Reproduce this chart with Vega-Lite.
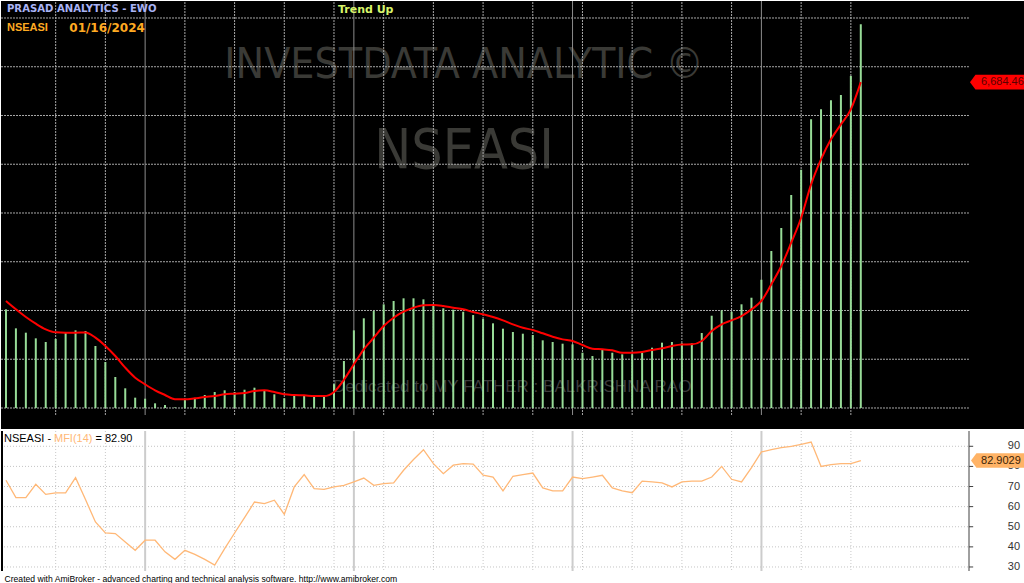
{
 "$schema": "https://vega.github.io/schema/vega-lite/v6.json",
 "background": "#ffffff",
 "padding": 0,
 "spacing": 1,
 "config": {"view": {"stroke": null}},
 "datasets": {
  "bars": [
   {"i":1,"v":2024,"r":2195},{"i":2,"v":1634,"r":2024},{"i":3,"v":1545,"r":1866},{"i":4,"v":1429,"r":1729},{"i":5,"v":1354,"r":1614},
   {"i":6,"v":1415,"r":1552},{"i":7,"v":1545,"r":1545},{"i":8,"v":1593,"r":1545},{"i":9,"v":1579,"r":1550},{"i":10,"v":1272,"r":1442},
   {"i":11,"v":943,"r":1272},{"i":12,"v":636,"r":1066},{"i":13,"v":404,"r":827},{"i":14,"v":212,"r":622},{"i":15,"v":191,"r":486},
   {"i":16,"v":96,"r":363},{"i":17,"v":62,"r":267},{"i":18,"v":12,"r":178},{"i":19,"v":164,"r":178},{"i":20,"v":205,"r":199},
   {"i":21,"v":267,"r":226},{"i":22,"v":328,"r":246},{"i":23,"v":363,"r":281},{"i":24,"v":328,"r":294},{"i":25,"v":375,"r":308},
   {"i":26,"v":417,"r":349},{"i":27,"v":363,"r":363},{"i":28,"v":281,"r":328},{"i":29,"v":199,"r":281},{"i":30,"v":253,"r":267},
   {"i":31,"v":267,"r":260},{"i":32,"v":240,"r":246},{"i":33,"v":240,"r":246},{"i":34,"v":490,"r":330},{"i":35,"v":964,"r":580},
   {"i":36,"v":1593,"r":896},{"i":37,"v":1840,"r":1204},{"i":38,"v":1990,"r":1442},{"i":39,"v":2127,"r":1682},{"i":40,"v":2195,"r":1852},
   {"i":41,"v":2250,"r":1975},{"i":42,"v":2250,"r":2057},{"i":43,"v":2229,"r":2106},{"i":44,"v":2092,"r":2113},{"i":45,"v":2045,"r":2092},
   {"i":46,"v":2017,"r":2057},{"i":47,"v":1975,"r":2024},{"i":48,"v":1907,"r":1969},{"i":49,"v":1825,"r":1922},{"i":50,"v":1737,"r":1866},
   {"i":51,"v":1627,"r":1797},{"i":52,"v":1559,"r":1716},{"i":53,"v":1524,"r":1647},{"i":54,"v":1497,"r":1600},{"i":55,"v":1388,"r":1532},
   {"i":56,"v":1354,"r":1463},{"i":57,"v":1319,"r":1408},{"i":58,"v":1306,"r":1374},{"i":59,"v":1134,"r":1292},{"i":60,"v":1066,"r":1217},
   {"i":61,"v":1190,"r":1204},{"i":62,"v":1134,"r":1183},{"i":63,"v":1101,"r":1134},{"i":64,"v":1101,"r":1134},{"i":65,"v":1134,"r":1149},
   {"i":66,"v":1237,"r":1190},{"i":67,"v":1340,"r":1224},{"i":68,"v":1354,"r":1272},{"i":69,"v":1330,"r":1302},{"i":70,"v":1327,"r":1306},
   {"i":71,"v":1538,"r":1374},{"i":72,"v":1893,"r":1579},{"i":73,"v":2004,"r":1716},{"i":74,"v":1975,"r":1797},{"i":75,"v":2127,"r":1887},
   {"i":76,"v":2262,"r":2024},{"i":77,"v":2631,"r":2195},{"i":78,"v":3220,"r":2536},{"i":79,"v":3692,"r":2912},{"i":80,"v":4369,"r":3390},
   {"i":81,"v":4888,"r":3903},{"i":82,"v":5921,"r":4588},{"i":83,"v":6126,"r":5101},{"i":84,"v":6311,"r":5511},{"i":85,"v":6420,"r":5819},
   {"i":86,"v":6809,"r":6126},{"i":87,"v":7870,"r":6684.46}
  ],
  "mfi": [
   {"i":1,"m":73.1},{"i":2,"m":64.5},{"i":3,"m":64.5},{"i":4,"m":71.1},{"i":5,"m":66.1},{"i":6,"m":66.8},{"i":7,"m":66.8},{"i":8,"m":74.4},
   {"i":9,"m":63.5},{"i":10,"m":52.4},{"i":11,"m":46.9},{"i":12,"m":46.6},{"i":13,"m":42.4},{"i":14,"m":38.3},{"i":15,"m":43.3},{"i":16,"m":43.3},
   {"i":17,"m":37.5},{"i":18,"m":33.8},{"i":19,"m":38.3},{"i":20,"m":36.3},{"i":21,"m":33.8},{"i":22,"m":30.9},{"i":23,"m":39.1},{"i":24,"m":46.9},
   {"i":25,"m":54.5},{"i":26,"m":62.3},{"i":27,"m":61.5},{"i":28,"m":63.2},{"i":29,"m":56.2},{"i":30,"m":69.8},{"i":31,"m":75.9},{"i":32,"m":68.9},
   {"i":33,"m":68.6},{"i":34,"m":69.8},{"i":35,"m":70.6},{"i":36,"m":72.3},{"i":37,"m":74.2},{"i":38,"m":70.6},{"i":39,"m":71.4},{"i":40,"m":71.8},
   {"i":41,"m":78.1},{"i":42,"m":83.4},{"i":43,"m":88.3},{"i":44,"m":81.4},{"i":45,"m":76.4},{"i":46,"m":80.6},{"i":47,"m":81.4},{"i":48,"m":81.1},
   {"i":49,"m":75.6},{"i":50,"m":74.7},{"i":51,"m":67.8},{"i":52,"m":75.1},{"i":53,"m":75.9},{"i":54,"m":76.7},{"i":55,"m":69.3},{"i":56,"m":67.8},
   {"i":57,"m":67.8},{"i":58,"m":74.7},{"i":59,"m":73.9},{"i":60,"m":74.7},{"i":61,"m":75.6},{"i":62,"m":69.3},{"i":63,"m":67.8},{"i":64,"m":66.9},
   {"i":65,"m":72.7},{"i":66,"m":72.3},{"i":67,"m":71.8},{"i":68,"m":69.8},{"i":69,"m":72.3},{"i":70,"m":72.7},{"i":71,"m":72.7},{"i":72,"m":74.7},
   {"i":73,"m":80.0},{"i":74,"m":73.6},{"i":75,"m":72.3},{"i":76,"m":79.4},{"i":77,"m":87.2},{"i":78,"m":88.3},{"i":79,"m":89.3},{"i":80,"m":90.0},
   {"i":81,"m":91.0},{"i":82,"m":92.1},{"i":83,"m":80.0},{"i":84,"m":80.9},{"i":85,"m":81.4},{"i":86,"m":81.4},{"i":87,"m":82.9029}
  ],
  "weeks": [{"i":6},{"i":11},{"i":19},{"i":24},{"i":29},{"i":34},{"i":39},{"i":44},{"i":49},{"i":54},{"i":59},{"i":64},{"i":69},{"i":74},{"i":81},{"i":86}],
  "months": [{"i":15},{"i":36},{"i":58},{"i":77}],
  "levels": [{"g":0},{"g":1000},{"g":2000},{"g":3000},{"g":4000},{"g":5000},{"g":6000},{"g":7000},{"g":8000}],
  "mfiLevels": [{"g":30},{"g":40},{"g":50},{"g":60},{"g":70},{"g":80},{"g":90}]
 },
 "vconcat": [
  {
   "width": 1024,
   "height": 428,
   "view": {"fill": "#000000", "stroke": null},
   "layer": [
    {
     "data": {"values": [{"t": "INVESTDATA ANALYTIC ©"}]},
     "mark": {"type": "text", "font": "Liberation Sans Narrow, DejaVu Sans Condensed, Liberation Sans", "fontSize": 42.5, "color": "#3a3a36", "align": "center", "baseline": "alphabetic"},
     "encoding": {
      "text": {"field": "t"},
      "x": {"datum": 47.08, "type": "quantitative", "scale": {"domain": [0.5, 103.52], "nice": false, "zero": false}, "axis": null},
      "y": {"datum": 6775, "type": "quantitative", "scale": {"domain": [-430.8, 8348.7], "nice": false, "zero": false}, "axis": null}
     }
    },
    {
     "data": {"values": [{"t": "NSEASI"}]},
     "mark": {"type": "text", "font": "Liberation Sans Narrow, DejaVu Sans Condensed, Liberation Sans", "fontSize": 55, "color": "#3a3a36", "align": "center", "baseline": "alphabetic"},
     "encoding": {
      "text": {"field": "t"},
      "x": {"datum": 47.08, "type": "quantitative", "scale": {"domain": [0.5, 103.52], "nice": false, "zero": false}, "axis": null},
      "y": {"datum": 4929, "type": "quantitative", "scale": {"domain": [-430.8, 8348.7], "nice": false, "zero": false}, "axis": null}
     }
    },
    {
     "data": {"values": [{"t": "Dedicated to MY FATHER : BALKRISHNA RAO"}]},
     "mark": {"type": "text", "font": "Liberation Sans", "fontSize": 17, "color": "#3c3c3c", "align": "left", "baseline": "alphabetic"},
     "encoding": {
      "text": {"field": "t"},
      "x": {"datum": 33.9, "type": "quantitative", "scale": {"domain": [0.5, 103.52], "nice": false, "zero": false}, "axis": null},
      "y": {"datum": 328, "type": "quantitative", "scale": {"domain": [-430.8, 8348.7], "nice": false, "zero": false}, "axis": null}
     }
    },
    {
     "data": {"name": "levels"},
     "mark": {"type": "rule", "color": "#a8a8a8", "strokeDash": [2, 1], "strokeWidth": 1},
     "encoding": {
      "x": {"datum": 0.5, "type": "quantitative", "scale": {"domain": [0.5, 103.52], "nice": false, "zero": false}, "axis": null},
      "x2": {"datum": 97.88},
      "y": {"field": "g", "type": "quantitative", "scale": {"domain": [-430.8, 8348.7], "nice": false, "zero": false}, "axis": null}
     }
    },
    {
     "data": {"name": "weeks"},
     "mark": {"type": "rule", "color": "#a8a8a8", "strokeDash": [2, 1], "strokeWidth": 1},
     "encoding": {
      "x": {"field": "i", "type": "quantitative", "scale": {"domain": [0.5, 103.52], "nice": false, "zero": false}, "axis": null},
      "y": {"datum": -144, "type": "quantitative", "scale": {"domain": [-430.8, 8348.7], "nice": false, "zero": false}, "axis": null},
      "y2": {"datum": 8348.7}
     }
    },
    {
     "data": {"name": "months"},
     "mark": {"type": "rule", "color": "#8c8c8c", "strokeWidth": 1},
     "encoding": {
      "x": {"field": "i", "type": "quantitative", "scale": {"domain": [0.5, 103.52], "nice": false, "zero": false}, "axis": null},
      "y": {"datum": -144, "type": "quantitative", "scale": {"domain": [-430.8, 8348.7], "nice": false, "zero": false}, "axis": null},
      "y2": {"datum": 8348.7}
     }
    },
    {
     "data": {"name": "bars"},
     "mark": {"type": "rule", "color": "#98dc98", "strokeWidth": 2},
     "encoding": {
      "x": {"field": "i", "type": "quantitative", "scale": {"domain": [0.5, 103.52], "nice": false, "zero": false}, "axis": null},
      "y": {"field": "v", "type": "quantitative", "scale": {"domain": [-430.8, 8348.7], "nice": false, "zero": false}, "axis": null},
      "y2": {"datum": 0}
     }
    },
    {
     "data": {"name": "bars"},
     "mark": {"type": "line", "color": "#ff0000", "strokeWidth": 2, "interpolate": "monotone"},
     "encoding": {
      "x": {"field": "i", "type": "quantitative", "scale": {"domain": [0.5, 103.52], "nice": false, "zero": false}, "axis": null},
      "y": {"field": "r", "type": "quantitative", "scale": {"domain": [-430.8, 8348.7], "nice": false, "zero": false}, "axis": null}
     }
    },
    {
     "data": {"values": [{"t": "PRASAD ANALYTICS - EWO"}]},
     "mark": {"type": "text", "font": "DejaVu Sans", "fontWeight": "bold", "fontSize": 10.1, "color": "#aab4f5", "align": "left", "baseline": "middle"},
     "encoding": {
      "text": {"field": "t"},
      "x": {"datum": 1.1, "type": "quantitative", "scale": {"domain": [0.5, 103.52], "nice": false, "zero": false}, "axis": null},
      "y": {"datum": 8185, "type": "quantitative", "scale": {"domain": [-430.8, 8348.7], "nice": false, "zero": false}, "axis": null}
     }
    },
    {
     "data": {"values": [{"t": "NSEASI"}]},
     "mark": {"type": "text", "font": "Liberation Sans", "fontWeight": "bold", "fontSize": 11, "color": "#ffaa22", "align": "left", "baseline": "middle"},
     "encoding": {
      "text": {"field": "t"},
      "x": {"datum": 1.1, "type": "quantitative", "scale": {"domain": [0.5, 103.52], "nice": false, "zero": false}, "axis": null},
      "y": {"datum": 7800, "type": "quantitative", "scale": {"domain": [-430.8, 8348.7], "nice": false, "zero": false}, "axis": null}
     }
    },
    {
     "data": {"values": [{"t": "01/16/2024"}]},
     "mark": {"type": "text", "font": "DejaVu Sans", "fontWeight": "bold", "fontSize": 12, "color": "#ffaa22", "align": "left", "baseline": "middle"},
     "encoding": {
      "text": {"field": "t"},
      "x": {"datum": 7.37, "type": "quantitative", "scale": {"domain": [0.5, 103.52], "nice": false, "zero": false}, "axis": null},
      "y": {"datum": 7800, "type": "quantitative", "scale": {"domain": [-430.8, 8348.7], "nice": false, "zero": false}, "axis": null}
     }
    },
    {
     "data": {"values": [{"t": "Trend Up"}]},
     "mark": {"type": "text", "font": "DejaVu Sans", "fontWeight": "bold", "fontSize": 11, "color": "#d8f56a", "align": "left", "baseline": "middle"},
     "encoding": {
      "text": {"field": "t"},
      "x": {"datum": 34.4, "type": "quantitative", "scale": {"domain": [0.5, 103.52], "nice": false, "zero": false}, "axis": null},
      "y": {"datum": 8170, "type": "quantitative", "scale": {"domain": [-430.8, 8348.7], "nice": false, "zero": false}, "axis": null}
     }
    },
    {
     "data": {"values": [{"val": 6684.46, "lab": "6,684.46"}]},
     "mark": {"type": "point", "shape": "M-1,0L-0.8,-0.27L1,-0.27L1,0.27L-0.8,0.27Z", "filled": true, "fill": "#ff0000", "strokeWidth": 0, "size": 3025, "opacity": 1},
     "encoding": {
      "x": {"datum": 100.75, "type": "quantitative", "scale": {"domain": [0.5, 103.52], "nice": false, "zero": false}, "axis": null},
      "y": {"field": "val", "type": "quantitative", "scale": {"domain": [-430.8, 8348.7], "nice": false, "zero": false}, "axis": null}
     }
    },
    {
     "data": {"values": [{"val": 6684.46, "lab": "6,684.46"}]},
     "mark": {"type": "text", "font": "Liberation Sans", "fontSize": 11, "color": "#5a0000", "align": "left", "baseline": "middle"},
     "encoding": {
      "text": {"field": "lab"},
      "x": {"datum": 99.09, "type": "quantitative", "scale": {"domain": [0.5, 103.52], "nice": false, "zero": false}, "axis": null},
      "y": {"field": "val", "type": "quantitative", "scale": {"domain": [-430.8, 8348.7], "nice": false, "zero": false}, "axis": null}
     }
    }
   ]
  },
  {
   "width": 968,
   "height": 140,
   "view": {"fill": "#ffffff", "stroke": null},
   "title": {"text": "Created with AmiBroker - advanced charting and technical analysis software. http://www.amibroker.com", "orient": "bottom", "anchor": "start", "offset": 3, "dx": 4, "font": "Liberation Sans", "fontSize": 8.6, "fontWeight": "normal", "color": "#000000"},
   "layer": [
    {
     "data": {"name": "mfiLevels"},
     "mark": {"type": "rule", "color": "#c4c4c4", "strokeDash": [1, 2], "strokeWidth": 1},
     "encoding": {
      "x": {"datum": 0.5, "type": "quantitative", "scale": {"domain": [0.5, 97.88], "nice": false, "zero": false}, "axis": null},
      "x2": {"datum": 97.88},
      "y": {"field": "g", "type": "quantitative", "scale": {"domain": [28.0, 97.6], "nice": false, "zero": false}, "axis": null}
     }
    },
    {
     "data": {"name": "weeks"},
     "mark": {"type": "rule", "color": "#c8c8c8", "strokeDash": [1, 2], "strokeWidth": 1},
     "encoding": {
      "x": {"field": "i", "type": "quantitative", "scale": {"domain": [0.5, 97.88], "nice": false, "zero": false}, "axis": null}
     }
    },
    {
     "data": {"name": "months"},
     "mark": {"type": "rule", "color": "#cccccc", "strokeWidth": 2},
     "encoding": {
      "x": {"field": "i", "type": "quantitative", "scale": {"domain": [0.5, 97.88], "nice": false, "zero": false}, "axis": null}
     }
    },
    {
     "data": {"values": [{"k": 1}]},
     "mark": {"type": "rule", "color": "#000000", "strokeWidth": 2},
     "encoding": {
      "x": {"datum": 0.6, "type": "quantitative", "scale": {"domain": [0.5, 97.88], "nice": false, "zero": false}, "axis": null}
     }
    },
    {
     "data": {"values": [{"k": 1}]},
     "mark": {"type": "rule", "color": "#404040", "strokeWidth": 1},
     "encoding": {
      "x": {"datum": 97.88, "type": "quantitative", "scale": {"domain": [0.5, 97.88], "nice": false, "zero": false}, "axis": null}
     }
    },
    {
     "data": {"name": "mfiLevels"},
     "mark": {"type": "rule", "color": "#404040", "strokeWidth": 1},
     "encoding": {
      "x": {"datum": 97.88, "type": "quantitative", "scale": {"domain": [0.5, 97.88], "nice": false, "zero": false}, "axis": null},
      "x2": {"datum": 98.3},
      "y": {"field": "g", "type": "quantitative", "scale": {"domain": [28.0, 97.6], "nice": false, "zero": false}, "axis": null}
     }
    },
    {
     "data": {"name": "mfiLevels"},
     "mark": {"type": "text", "font": "Liberation Sans", "fontSize": 11, "color": "#333333", "align": "right", "baseline": "middle"},
     "encoding": {
      "text": {"field": "g", "type": "quantitative"},
      "x": {"datum": 103.02, "type": "quantitative", "scale": {"domain": [0.5, 97.88], "nice": false, "zero": false}, "axis": null},
      "y": {"field": "g", "type": "quantitative", "scale": {"domain": [28.0, 97.6], "nice": false, "zero": false}, "axis": null}
     }
    },
    {
     "data": {"name": "mfi"},
     "mark": {"type": "line", "color": "#ffb877", "strokeWidth": 1.3},
     "encoding": {
      "x": {"field": "i", "type": "quantitative", "scale": {"domain": [0.5, 97.88], "nice": false, "zero": false}, "axis": null},
      "y": {"field": "m", "type": "quantitative", "scale": {"domain": [28.0, 97.6], "nice": false, "zero": false}, "axis": null}
     }
    },
    {
     "data": {"values": [{"t": "NSEASI -"}]},
     "mark": {"type": "text", "font": "Liberation Sans", "fontSize": 11, "color": "#000000", "align": "left", "baseline": "middle"},
     "encoding": {
      "text": {"field": "t"},
      "x": {"datum": 0.8, "type": "quantitative", "scale": {"domain": [0.5, 97.88], "nice": false, "zero": false}, "axis": null},
      "y": {"datum": 93.8, "type": "quantitative", "scale": {"domain": [28.0, 97.6], "nice": false, "zero": false}, "axis": null}
     }
    },
    {
     "data": {"values": [{"t": "MFI(14)"}]},
     "mark": {"type": "text", "font": "Liberation Sans", "fontSize": 11, "color": "#ffb877", "align": "left", "baseline": "middle"},
     "encoding": {
      "text": {"field": "t"},
      "x": {"datum": 5.83, "type": "quantitative", "scale": {"domain": [0.5, 97.88], "nice": false, "zero": false}, "axis": null},
      "y": {"datum": 93.8, "type": "quantitative", "scale": {"domain": [28.0, 97.6], "nice": false, "zero": false}, "axis": null}
     }
    },
    {
     "data": {"values": [{"t": "= 82.90"}]},
     "mark": {"type": "text", "font": "Liberation Sans", "fontSize": 11, "color": "#000000", "align": "left", "baseline": "middle"},
     "encoding": {
      "text": {"field": "t"},
      "x": {"datum": 10.0, "type": "quantitative", "scale": {"domain": [0.5, 97.88], "nice": false, "zero": false}, "axis": null},
      "y": {"datum": 93.8, "type": "quantitative", "scale": {"domain": [28.0, 97.6], "nice": false, "zero": false}, "axis": null}
     }
    },
    {
     "data": {"values": [{"val": 82.9029, "lab": "82.9029"}]},
     "mark": {"type": "point", "shape": "M-1,0L-0.8,-0.27L1,-0.27L1,0.27L-0.8,0.27Z", "filled": true, "fill": "#ffb366", "strokeWidth": 0, "size": 2916, "opacity": 1},
     "encoding": {
      "x": {"datum": 100.8, "type": "quantitative", "scale": {"domain": [0.5, 97.88], "nice": false, "zero": false}, "axis": null},
      "y": {"field": "val", "type": "quantitative", "scale": {"domain": [28.0, 97.6], "nice": false, "zero": false}, "axis": null}
     }
    },
    {
     "data": {"values": [{"val": 82.9029, "lab": "82.9029"}]},
     "mark": {"type": "text", "font": "Liberation Sans", "fontSize": 11, "color": "#3a2408", "align": "left", "baseline": "middle"},
     "encoding": {
      "text": {"field": "lab"},
      "x": {"datum": 99.09, "type": "quantitative", "scale": {"domain": [0.5, 97.88], "nice": false, "zero": false}, "axis": null},
      "y": {"field": "val", "type": "quantitative", "scale": {"domain": [28.0, 97.6], "nice": false, "zero": false}, "axis": null}
     }
    }
   ]
  }
 ]
}
